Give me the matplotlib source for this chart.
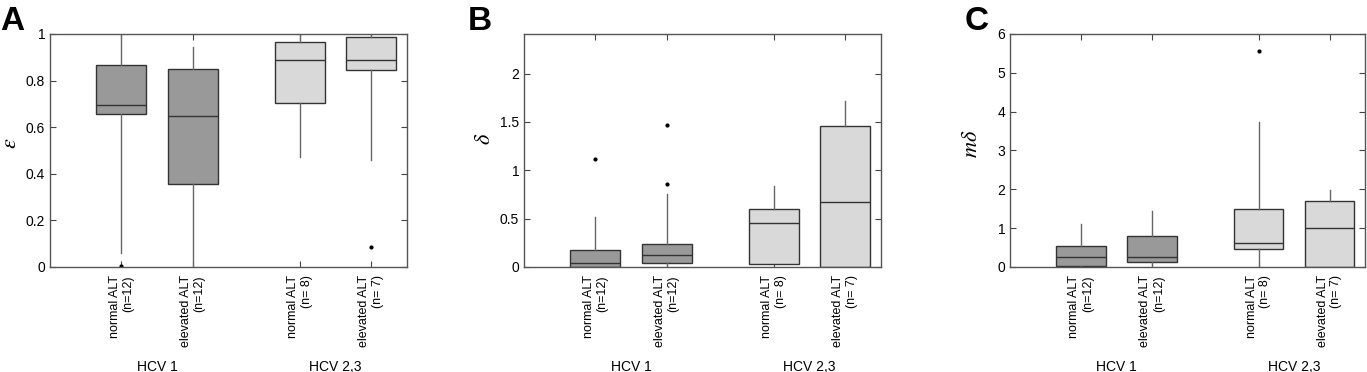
import matplotlib.pyplot as plt

plt.rcParams['font.family'] = ['Liberation Sans', 'DejaVu Sans']
plt.rcParams['mathtext.fontset'] = 'stix'

# categories
groups = ["HCV 1", "HCV 2,3"]
box_labels = ["normal ALT\n(n=12)", "elevated ALT\n(n=12)",
              "normal ALT\n(n= 8)", "elevated ALT\n(n= 7)"]

# panel A: epsilon
eps_whislo = [0.06, 0.0, 0.47, 0.46]
eps_q1 = [0.655, 0.358, 0.703, 0.845]
eps_med = [0.697, 0.648, 0.887, 0.887]
eps_q3 = [0.865, 0.848, 0.965, 0.985]
eps_whishi = [1.0, 0.945, 1.0, 1.0]
eps_fliers = [[0.005], [], [], [0.087]]

# panel B: delta
delta_whislo = [0.0, 0.0, 0.027, 0.0]
delta_q1 = [0.005, 0.038, 0.027, 0.0]
delta_med = [0.038, 0.12, 0.45, 0.67]
delta_q3 = [0.172, 0.24, 0.605, 1.457]
delta_whishi = [0.52, 0.76, 0.84, 1.715]
delta_fliers = [[1.12], [0.86, 1.47], [], []]

# panel C: m*delta
mdelta_whislo = [0.0, 0.0, 0.0, 0.0]
mdelta_q1 = [0.02, 0.13, 0.46, 0.0]
mdelta_med = [0.258, 0.26, 0.63, 1.015]
mdelta_q3 = [0.55, 0.81, 1.496, 1.70]
mdelta_whishi = [1.11, 1.45, 3.74, 1.97]
mdelta_fliers = [[], [], [5.55], []]

positions = [1, 2, 3.5, 4.5]
fills = ["#999999", "#999999", "#d9d9d9", "#d9d9d9"]


def make_stats(lo, q1, med, q3, hi, fl):
    stats = []
    for i in range(len(med)):
        stats.append({"whislo": lo[i], "q1": q1[i], "med": med[i], "q3": q3[i],
                      "whishi": hi[i], "fliers": fl[i]})
    return stats


panels = [
    ("A", r"$\varepsilon$", (0, 1), [0, 0.2, 0.4, 0.6, 0.8, 1],
     ["0", "0.2", "0.4", "0.6", "0.8", "1"],
     make_stats(eps_whislo, eps_q1, eps_med, eps_q3, eps_whishi, eps_fliers)),
    ("B", r"$\delta$", (0, 2.41), [0, 0.5, 1, 1.5, 2],
     ["0", "0.5", "1", "1.5", "2"],
     make_stats(delta_whislo, delta_q1, delta_med, delta_q3, delta_whishi, delta_fliers)),
    ("C", r"$m\delta$", (0, 6), [0, 1, 2, 3, 4, 5, 6],
     ["0", "1", "2", "3", "4", "5", "6"],
     make_stats(mdelta_whislo, mdelta_q1, mdelta_med, mdelta_q3, mdelta_whishi, mdelta_fliers)),
]

lefts = [50 / 1367, 524 / 1367, 1010 / 1367]
widths = [357 / 1367, 357 / 1367, 355 / 1367]
letter_x = [12 / 1367, 480 / 1367, 977 / 1367]
ylabel_x = [-0.08, -0.082, -0.078]
ylabel_y = [0.53, 0.55, 0.53]

fig = plt.figure(figsize=(13.67, 3.72), dpi=100)

for k, (letter, ylab, ylim, yticks, yticklabels, stats) in enumerate(panels):
    ax = fig.add_axes([lefts[k], 105 / 372, widths[k], 233 / 372])
    bp = ax.bxp(stats, positions=positions, widths=0.7, patch_artist=True,
                showcaps=False,
                boxprops=dict(edgecolor="#333333", linewidth=1.0),
                medianprops=dict(color="#333333", linewidth=1.0),
                whiskerprops=dict(color="#666666", linewidth=1.0),
                flierprops=dict(marker="o", markersize=2, markerfacecolor="black",
                                markeredgecolor="black"))
    for patch, c in zip(bp["boxes"], fills):
        patch.set_facecolor(c)
    ax.set_xlim(0, 5)
    ax.set_ylim(*ylim)
    ax.set_yticks(yticks)
    ax.set_yticklabels(yticklabels, fontsize=10)
    ax.set_xticks(positions)
    ax.set_xticklabels(box_labels, rotation=90, fontsize=9,
                       multialignment="right", va="top")
    ax.tick_params(direction="in", top=True, right=True, length=4,
                   color="#444444", width=0.8)
    ax.tick_params(axis="x", pad=6)
    for s in ax.spines.values():
        s.set_color("#555555")
        s.set_linewidth(1.0)
    ax.set_ylabel(ylab, fontsize=16)
    ax.yaxis.set_label_coords(ylabel_x[k], ylabel_y[k])
    # group labels below the category labels
    ax.text(1.5, -0.43, groups[0], transform=ax.get_xaxis_transform(),
            ha="center", va="center", fontsize=10)
    ax.text(4.0, -0.43, groups[1], transform=ax.get_xaxis_transform(),
            ha="center", va="center", fontsize=10)
    fig.text(letter_x[k], 1 - 21 / 372, letter, fontsize=24, fontweight="bold",
             ha="center", va="center")

fig.savefig("out.png", dpi=100)
